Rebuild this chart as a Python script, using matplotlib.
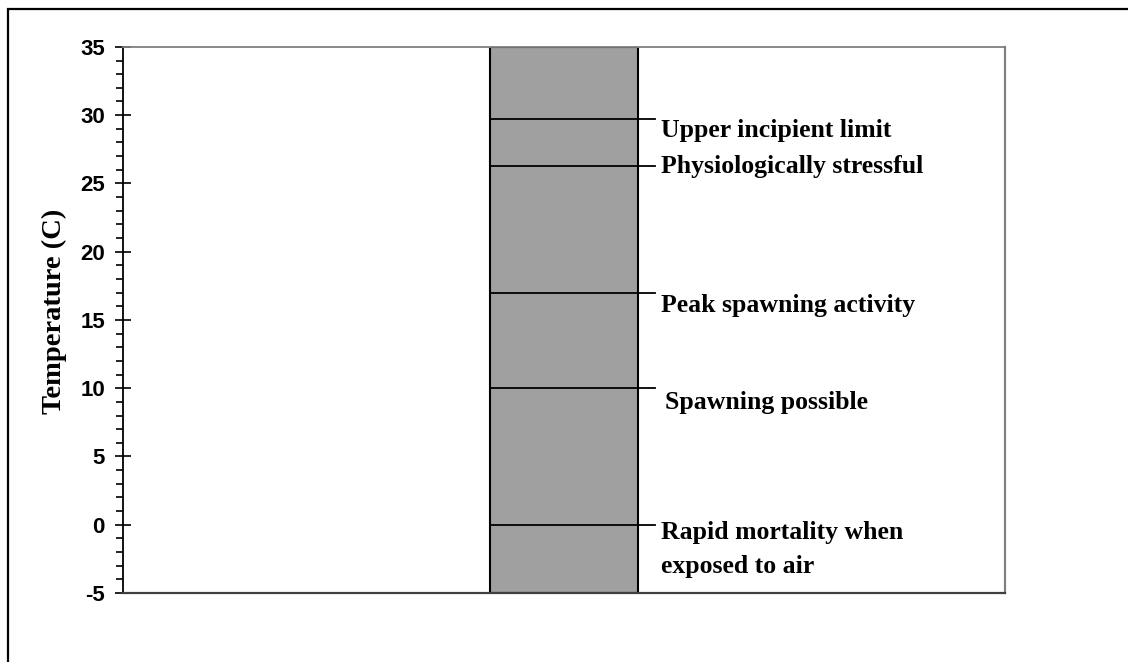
import matplotlib.pyplot as plt
from matplotlib.patches import Rectangle

plt.rcParams["axes.unicode_minus"] = False

# temperature thresholds (C) and their labels
thresholds = [29.7, 26.3, 17.0, 10.0, 0.0]
labels = ["Upper incipient limit", "Physiologically stressful",
          "Peak spawning activity", "Spawning possible",
          "Rapid mortality when\nexposed to air"]
y_min, y_max = -5, 35

# label placement: x start (data) and baseline drop below the line (points)
label_x = [0.66, 0.66, 0.66, 0.69, 0.66]
label_drop = [13, 5, 14, 15, 10]

fig = plt.figure(figsize=(11.28, 6.62), dpi=100)
ax = fig.add_axes([0.109, 0.1042, 0.782, 0.825])

# outer frame (only left and top visible)
fig.patches.append(Rectangle((8 / 1128, -0.2), 1.5, 1.2 - 9 / 662,
                             transform=fig.transFigure, fill=False,
                             edgecolor="black", linewidth=1.6))

# the gray column
ax.bar([0], [y_max - y_min], bottom=y_min, width=1.0,
       color="#a0a0a0", edgecolor="black", linewidth=1.5, zorder=2)

# threshold lines and labels
for val, lab, lx, drop in zip(thresholds, labels, label_x, label_drop):
    ax.plot([-0.5, 0.62], [val, val], color="black", linewidth=1.3, zorder=3)
    ax.annotate(lab.split("\n")[0], (lx, val), xytext=(0, -drop),
                textcoords="offset points", ha="left", va="baseline",
                fontsize=18.5, fontweight="bold", family="Liberation Serif")
    if "\n" in lab:
        ax.annotate(lab.split("\n")[1], (lx, val), xytext=(0, -drop - 25),
                    textcoords="offset points", ha="left", va="baseline",
                    fontsize=18.5, fontweight="bold", family="Liberation Serif")

ax.set_xlim(-3, 3)
ax.set_ylim(y_min, y_max)
ax.set_yticks(range(-5, 36, 5))
ax.set_yticks(range(-5, 36, 1), minor=True)
ax.set_xticks([])
for lbl in ax.get_yticklabels():
    lbl.set_fontweight("bold")
    lbl.set_family("Liberation Sans")
    lbl.set_fontsize(16)
ax.tick_params(axis="y", which="major", direction="inout", length=11,
               width=1.2, pad=7.5)
ax.tick_params(axis="y", which="minor", direction="out", length=5, width=1.2)

ax.set_ylabel("Temperature (C)", fontsize=20.5, fontweight="bold",
              family="Liberation Serif")
ax.yaxis.set_label_coords(-0.0635, 0.515)

ax.spines["left"].set_color("black")
ax.spines["left"].set_linewidth(1.3)
ax.spines["bottom"].set_color("#404040")
ax.spines["bottom"].set_linewidth(1.6)
ax.spines["top"].set_color("#808080")
ax.spines["top"].set_linewidth(1.3)
ax.spines["right"].set_color("#808080")
ax.spines["right"].set_linewidth(1.6)

fig.savefig("out.png", dpi=100)
